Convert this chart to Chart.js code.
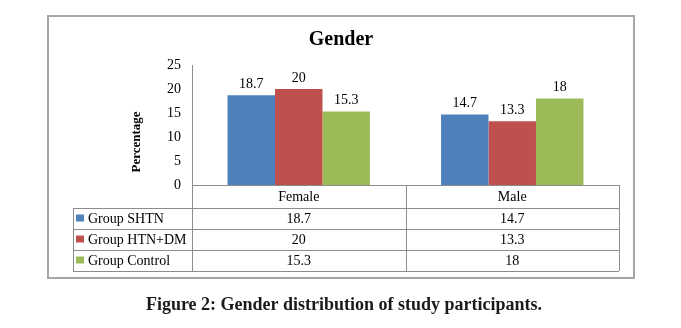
<!DOCTYPE html>
<html>
<head>
<meta charset="utf-8">
<script src="https://cdn.jsdelivr.net/npm/chart.js@4.4.0/dist/chart.umd.min.js"></script>
<style>
  html, body { margin: 0; padding: 0; background: #fff; }
  #wrap { width: 681px; height: 328px; }
</style>
</head>
<body>
<div id="wrap"><canvas id="myChart" width="681" height="328"></canvas></div>
<script>
const categories = ['Female', 'Male'];
const seriesNames = ['Group SHTN', 'Group HTN+DM', 'Group Control'];
const groupShtn = [18.7, 14.7];
const groupHtnDm = [20, 13.3];
const groupControl = [15.3, 18];
const seriesColors = ['#4F81BD', '#C0504D', '#9BBB59'];
const yMax = 25;
const yStep = 5;

const serif = "'Liberation Serif', 'Times New Roman', serif";

// title, labels above bars, data table under the axis, frame and caption
const extras = {
    id: 'extras',
    beforeDraw(chart) {
        const c = chart.ctx;
        c.save();
        c.fillStyle = '#fff';
        c.fillRect(0, 0, chart.width, chart.height);
        c.strokeStyle = '#a6a6a6';
        c.lineWidth = 2;
        c.strokeRect(48, 16, 586, 262);
        c.font = 'bold 20px ' + serif;
        c.fillStyle = '#000';
        c.textAlign = 'center';
        c.textBaseline = 'middle';
        c.fillText('Gender', 341, 40);
        c.restore();
    },
    afterDatasetsDraw(chart) {
        const c = chart.ctx;
        c.save();
        c.font = '14px ' + serif;
        c.fillStyle = '#000';
        c.textAlign = 'center';
        c.textBaseline = 'bottom';
        chart.data.datasets.forEach((ds, i) => {
            chart.getDatasetMeta(i).data.forEach((bar, j) => {
                c.fillText(String(ds.data[j]), bar.x, bar.y - 4);
            });
        });
        c.restore();
    },
    afterDraw(chart) {
        const c = chart.ctx;
        const area = chart.chartArea;
        const top = area.bottom;
        const headH = 23;
        const rowH = 21;
        const left = 73;
        const n = categories.length;
        const colW = (area.right - area.left) / n;
        const bottom = top + headH + rowH * seriesNames.length;

        c.save();
        c.strokeStyle = '#8c8c8c';
        c.lineWidth = 1;
        c.beginPath();
        for (let r = 0; r <= seriesNames.length; r++) {
            const y = Math.round(top + headH + r * rowH) + 0.5;
            c.moveTo(left, y);
            c.lineTo(area.right, y);
        }
        c.moveTo(left + 0.5, top + headH);
        c.lineTo(left + 0.5, bottom);
        for (let k = 0; k <= n; k++) {
            const x = Math.round(area.left + k * colW) + 0.5;
            c.moveTo(x, k === 0 ? area.top : top);
            c.lineTo(x, bottom);
        }
        c.stroke();

        c.font = '14px ' + serif;
        c.fillStyle = '#000';
        c.textBaseline = 'middle';
        c.textAlign = 'center';
        categories.forEach((cat, k) => {
            c.fillText(cat, area.left + (k + 0.5) * colW, top + headH / 2 + 1);
        });
        seriesNames.forEach((name, r) => {
            const yMid = top + headH + r * rowH + rowH / 2;
            c.fillStyle = seriesColors[r];
            c.fillRect(76, yMid - 4, 8, 7);
            c.fillStyle = '#000';
            c.textAlign = 'left';
            c.fillText(name, 88, yMid + 1);
            c.textAlign = 'center';
            chart.data.datasets[r].data.forEach((v, k) => {
                c.fillText(String(v), area.left + (k + 0.5) * colW, yMid + 1);
            });
        });

        // y axis title
        c.save();
        c.translate(137, 142);
        c.rotate(-Math.PI / 2);
        c.font = 'bold 13px ' + serif;
        c.fillText('Percentage', 0, 0);
        c.restore();

        // caption
        c.font = 'bold 18px ' + serif;
        c.fillStyle = '#1a1a1a';
        c.fillText('Figure 2: Gender distribution of study participants.', 344, 305);
        c.restore();
    }
};

const ctx = document.getElementById('myChart').getContext('2d');
const myChart = new Chart(ctx, {
    type: 'bar',
    data: {
        labels: categories,
        datasets: [
            { label: seriesNames[0], data: groupShtn, backgroundColor: seriesColors[0] },
            { label: seriesNames[1], data: groupHtnDm, backgroundColor: seriesColors[1] },
            { label: seriesNames[2], data: groupControl, backgroundColor: seriesColors[2] }
        ]
    },
    options: {
        responsive: false,
        animation: false,
        datasets: {
            bar: {
                categoryPercentage: 0.667,
                barPercentage: 1
            }
        },
        layout: {
            padding: { left: 100, right: 62, top: 65, bottom: 143 }
        },
        scales: {
            x: {
                ticks: { display: false },
                grid: { display: false },
                border: { display: true, color: '#8c8c8c' },
                afterFit: scale => { scale.height = 0; }
            },
            y: {
                min: 0,
                max: yMax,
                ticks: {
                    stepSize: yStep,
                    padding: 3,
                    color: '#000',
                    font: { size: 14, family: serif }
                },
                grid: { display: false },
                border: { display: true, color: '#8c8c8c' },
                afterFit: scale => { scale.width = 92; }
            }
        },
        plugins: {
            legend: { display: false },
            tooltip: { enabled: false },
            title: { display: false }
        }
    },
    plugins: [extras]
});
</script>
</body>
</html>
